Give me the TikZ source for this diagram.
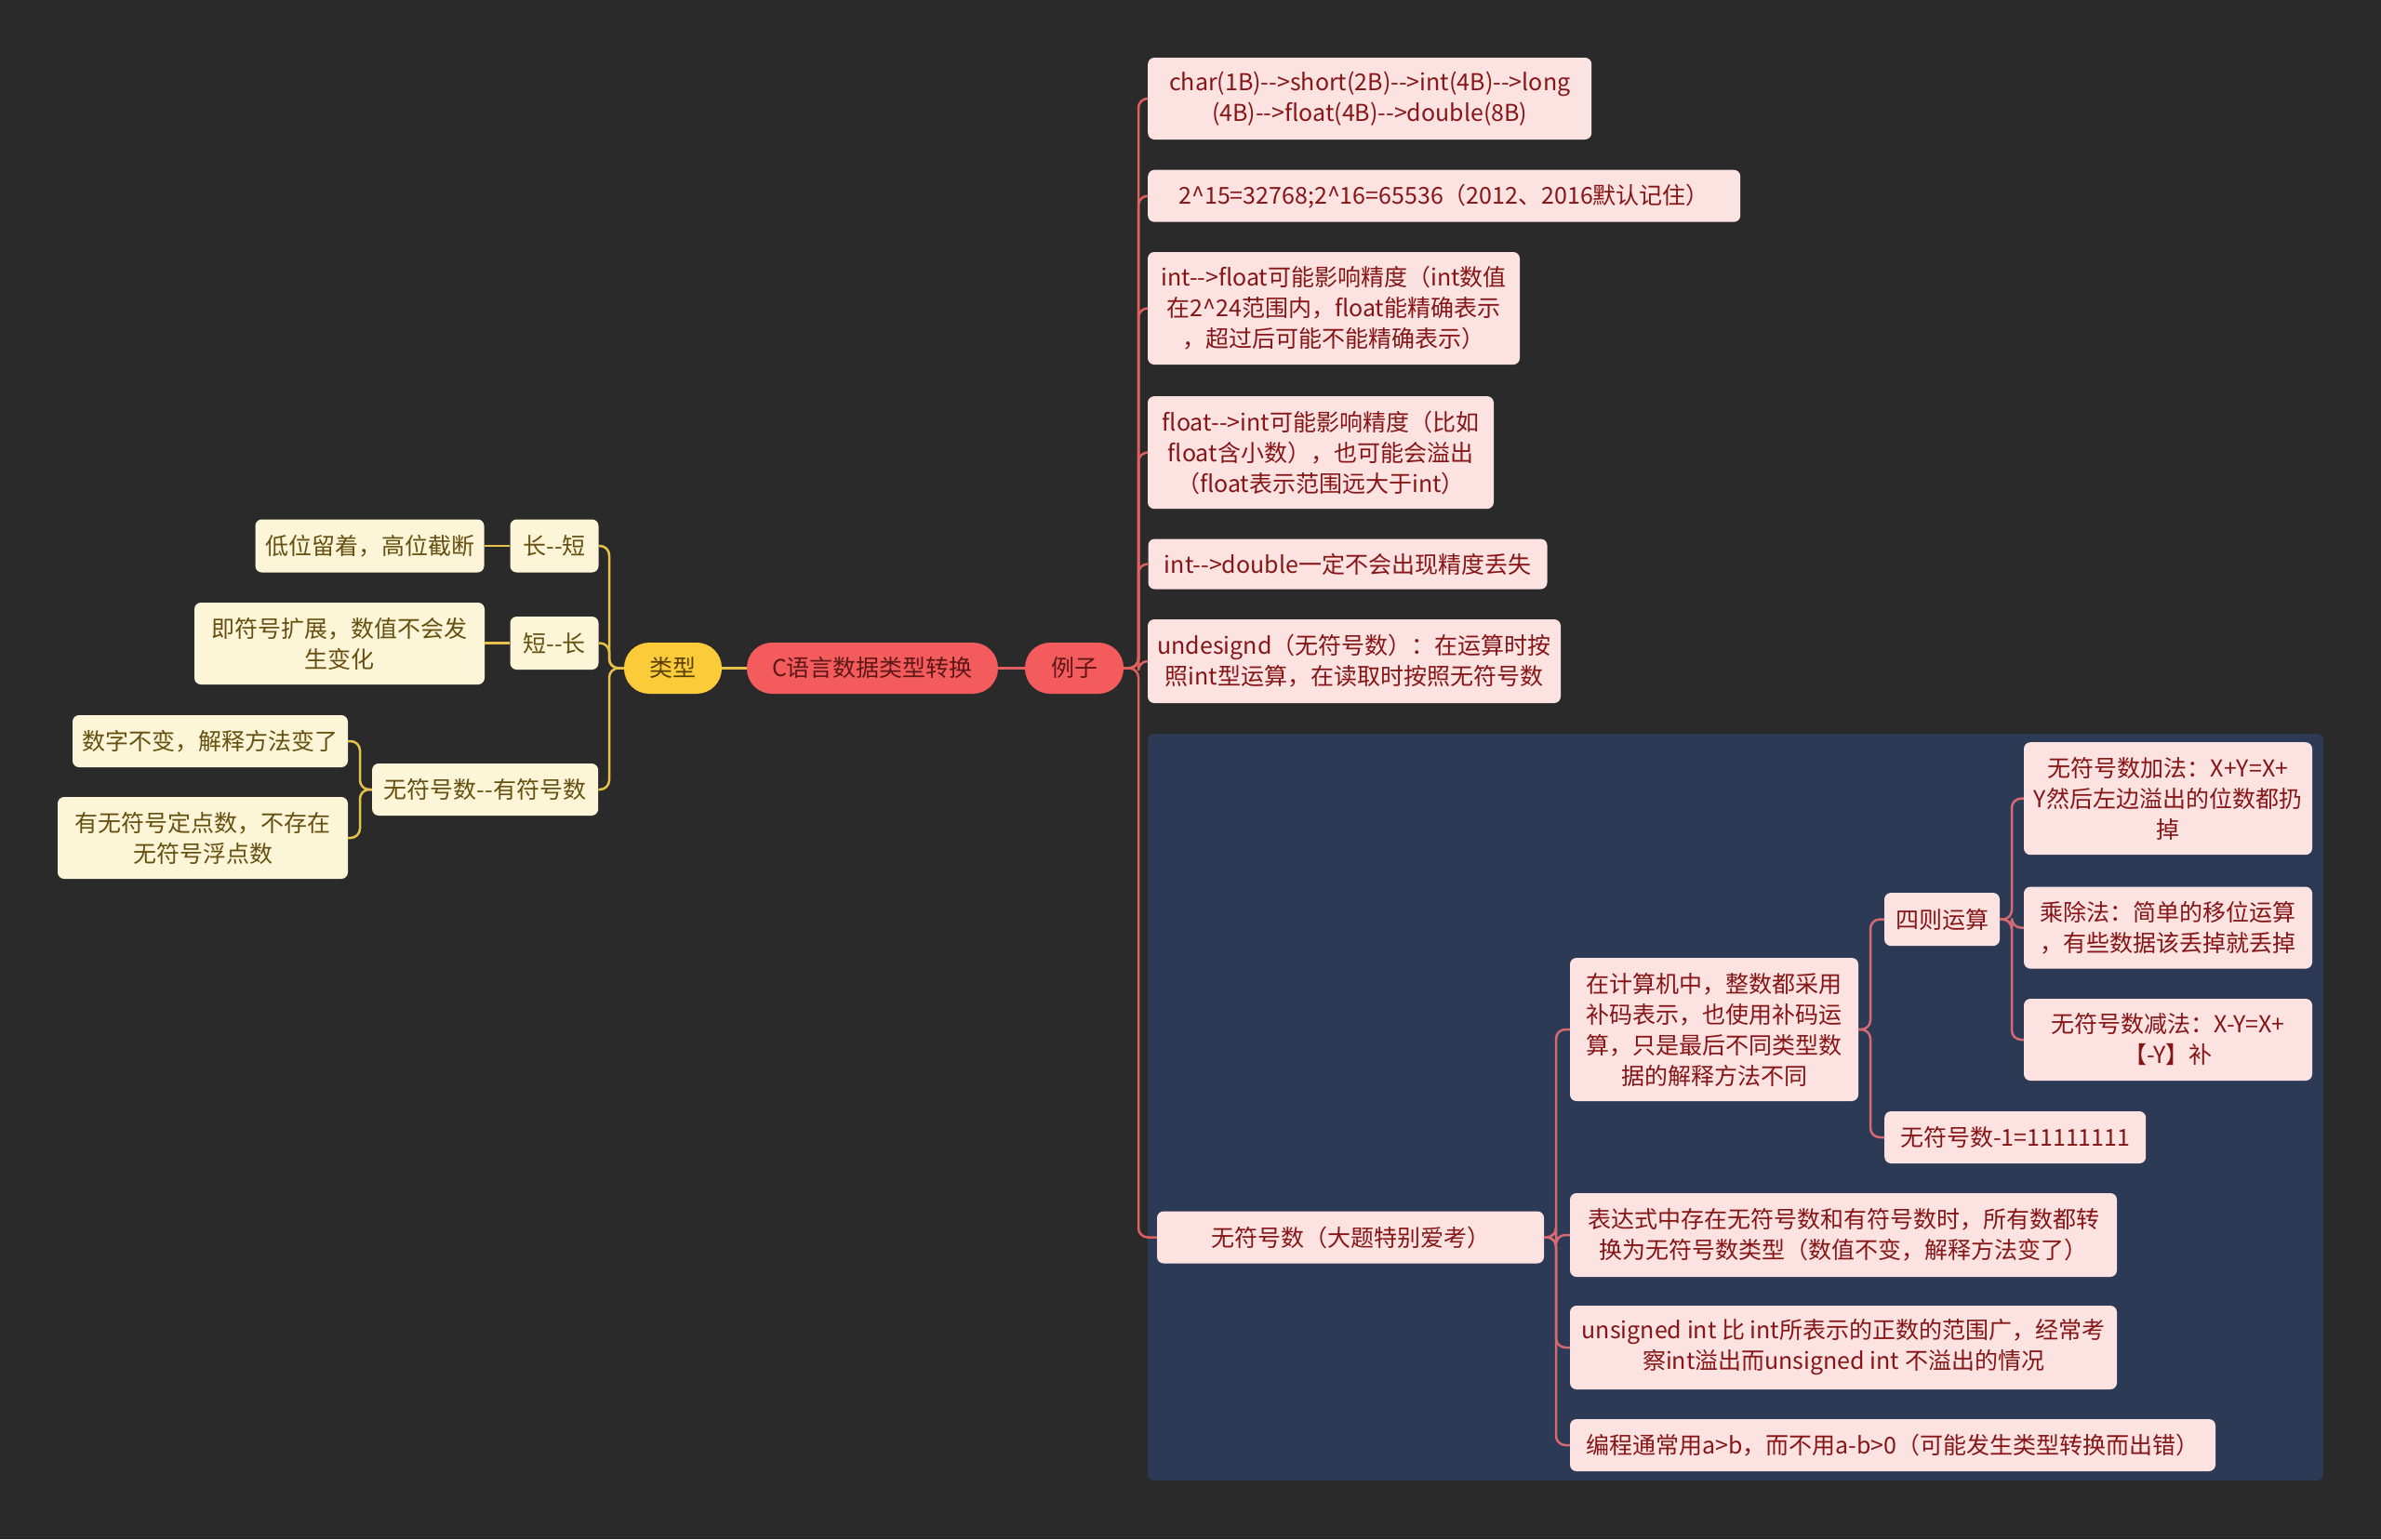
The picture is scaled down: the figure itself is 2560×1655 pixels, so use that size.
\documentclass[tikz,border=0pt]{standalone}
\usepackage{fontspec}
\newfontfamily\cjk{Noto Sans CJK SC}
\definecolor{bgc}{HTML}{2A2A2A}
\definecolor{bluereg}{HTML}{2C3A56}
\definecolor{redpill}{HTML}{F45B5D}
\definecolor{yelpill}{HTML}{FBCB3A}
\definecolor{pinkbox}{HTML}{FDE2E2}
\definecolor{creambox}{HTML}{FDF5D8}
\definecolor{redtext}{HTML}{861616}
\definecolor{yeltext}{HTML}{665010}
\definecolor{roottext}{HTML}{5E1717}
\definecolor{pilltext}{HTML}{5A4000}
\definecolor{redline}{HTML}{E0605F}
\definecolor{blueline}{HTML}{D66A70}
\definecolor{yelline}{HTML}{E6C24A}
\begin{document}
\begin{tikzpicture}[x=1pt,y=-1pt,
  txt/.style={font=\cjk\fontsize{25}{33}\selectfont, align=center, inner sep=0pt},
  pbox/.style={txt, fill=pinkbox, text=redtext, rounded corners=7pt},
  cbox/.style={txt, fill=creambox, text=yeltext, rounded corners=7pt},
  rpill/.style={txt, fill=redpill, text=roottext, rounded corners=27pt, minimum height=55pt},
  ypill/.style={txt, fill=yelpill, text=pilltext, rounded corners=27pt, minimum height=55pt},
  rl/.style={draw=redline, line width=2.5pt, rounded corners=10pt},
  bl/.style={draw=blueline, line width=2.5pt, rounded corners=10pt},
  yl/.style={draw=yelline, line width=2.5pt, rounded corners=10pt}
]
\fill[bgc] (0,0) rectangle (2560,1655);
\useasboundingbox (0,0) rectangle (2560,1655);
\fill[bluereg, rounded corners=7pt] (1234,789) rectangle (2498,1592);

% central
\node[rpill, minimum width=270pt] (root) at (938,718.5) {C语言数据类型转换};
\node[ypill, minimum width=105pt] (lx) at (723.5,718.5) {类型};
\node[rpill, minimum width=106pt] (lz) at (1155,718.5) {例子};

% left side
\node[cbox, minimum width=95pt, minimum height=57pt] (y1) at (596,587) {长--短};
\node[cbox, minimum width=246pt, minimum height=57pt] (y1a) at (397.5,587) {低位留着，高位截断};
\node[cbox, minimum width=95pt, minimum height=57pt] (y2) at (596,691.5) {短--长};
\node[cbox, minimum width=312pt, minimum height=88pt] (y2a) at (365,692) {即符号扩展，数值不会发\\生变化};
\node[cbox, minimum width=243pt, minimum height=56pt] (y3) at (521.6,849) {无符号数--有符号数};
\node[cbox, minimum width=296pt, minimum height=56pt] (y3a) at (226,797) {数字不变，解释方法变了};
\node[cbox, minimum width=312pt, minimum height=88pt] (y3b) at (218,901) {有无符号定点数，不存在\\无符号浮点数};

% right side
\node[pbox, minimum width=477pt, minimum height=88pt] (r1) at (1472.7,106) {char(1B)-->short(2B)-->int(4B)-->long\\(4B)-->float(4B)-->double(8B)};
\node[pbox, minimum width=637pt, minimum height=56pt] (r2) at (1552.7,210.7) {2\textasciicircum 15=32768;2\textasciicircum 16=65536（2012、2016默认记住）};
\node[pbox, minimum width=400pt, minimum height=121pt] (r3) at (1434,331.5) {int-->float可能影响精度（int数值\\在2\textasciicircum 24范围内，float能精确表示\\，超过后可能不能精确表示）};
\node[pbox, minimum width=372pt, minimum height=121pt] (r4) at (1420,486.6) {float-->int可能影响精度（比如\\float含小数），也可能会溢出\\（float表示范围远大于int）};
\node[pbox, minimum width=429pt, minimum height=54pt] (r5) at (1449,606.5) {int-->double一定不会出现精度丢失};
\node[pbox, minimum width=444pt, minimum height=90pt] (r6) at (1456,711) {undesignd（无符号数）：在运算时按\\照int型运算，在读取时按照无符号数};
\node[pbox, minimum width=416pt, minimum height=56pt] (r7) at (1452,1330.5) {无符号数（大题特别爱考）};

\node[pbox, minimum width=310pt, minimum height=154pt] (s1) at (1843,1107) {在计算机中，整数都采用\\补码表示，也使用补码运\\算，只是最后不同类型数\\据的解释方法不同};
\node[pbox, minimum width=588pt, minimum height=90pt] (s2) at (1982,1328) {表达式中存在无符号数和有符号数时，所有数都转\\换为无符号数类型（数值不变，解释方法变了）};
\node[pbox, minimum width=588pt, minimum height=90pt] (s3) at (1982,1449) {unsigned int 比 int所表示的正数的范围广，经常考\\察int溢出而unsigned int 不溢出的情况};
\node[pbox, minimum width=694pt, minimum height=56pt] (s4) at (2035,1554) {编程通常用a>b，而不用a-b>0（可能发生类型转换而出错）};

\node[pbox, minimum width=124pt, minimum height=57pt] (t1) at (2088,988.6) {四则运算};
\node[pbox, minimum width=281pt, minimum height=56pt] (t2) at (2166.7,1223) {无符号数-1=11111111};

\node[pbox, minimum width=310pt, minimum height=121pt] (u1) at (2331,858.7) {无符号数加法：X+Y=X+\\Y然后左边溢出的位数都扔\\掉};
\node[pbox, minimum width=310pt, minimum height=88pt] (u2) at (2331,997.6) {乘除法：简单的移位运算\\，有些数据该丢掉就丢掉};
\node[pbox, minimum width=310pt, minimum height=88pt] (u3) at (2331,1118) {无符号数减法：X-Y=X+\\【-Y】补};

% trunk coordinates
\coordinate (ta) at (655,0);
\coordinate (tb) at (387,0);
\coordinate (tc) at (1224,0);
\coordinate (td) at (1673,0);
\coordinate (te) at (2011,0);
\coordinate (tf) at (2163,0);

% connectors
\draw[yl] (root.west) -- (lx.east);
\draw[rl] (root.east) -- (lz.east -| lz.west);
\foreach \c in {y1,y2,y3} \draw[yl] (lx.west) -- (lx.west -| ta) |- (\c.east);
\draw[yl] (y1.west) -- (y1a.east);
\draw[yl] (y2.west) -- (y2a.east |- y2.west);
\foreach \c in {y3a,y3b} \draw[yl] (y3.west) -- (y3.west -| tb) |- (\c.east);

\foreach \c in {r1,r2,r3,r4,r5,r6,r7} \draw[rl] (lz.east) -- (lz.east -| tc) |- (\c.west);
\foreach \c in {s1,s2,s3,s4} \draw[bl] (r7.east) -- (r7.east -| td) |- (\c.west);
\foreach \c in {t1,t2} \draw[bl] (s1.east) -- (s1.east -| te) |- (\c.west);
\foreach \c in {u1,u2,u3} \draw[bl] (t1.east) -- (t1.east -| tf) |- (\c.west);
\end{tikzpicture}
\end{document}
